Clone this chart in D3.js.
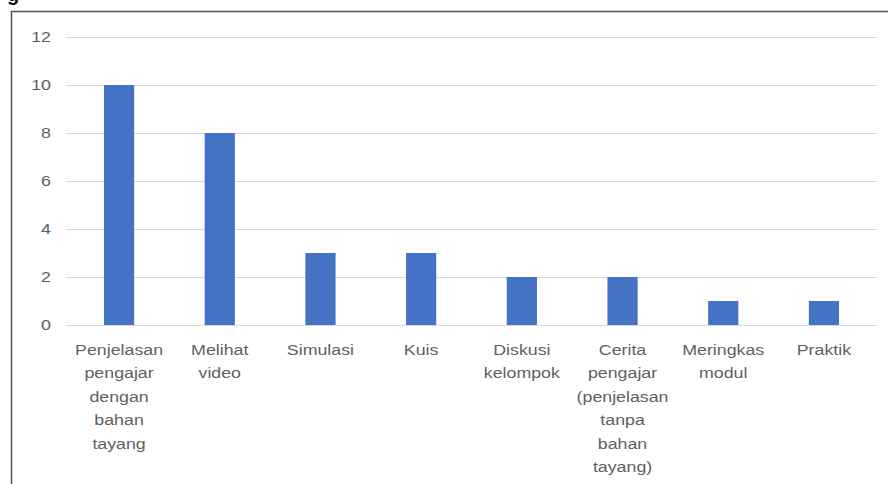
<!DOCTYPE html>
<html>
<head>
<meta charset="utf-8">
<script src="https://cdn.jsdelivr.net/npm/d3@7"></script>
<style>
  body { margin: 0; background: #fff; }
  svg { display: block; }
  text { font-family: "Liberation Sans", Arial, sans-serif; }
</style>
</head>
<body>
<script>
// data
var categories = [
  ["Penjelasan", "pengajar", "dengan", "bahan", "tayang"],
  ["Melihat", "video"],
  ["Simulasi"],
  ["Kuis"],
  ["Diskusi", "kelompok"],
  ["Cerita", "pengajar", "(penjelasan", "tanpa", "bahan", "tayang)"],
  ["Meringkas", "modul"],
  ["Praktik"]
];
var values = [10, 8, 3, 3, 2, 2, 1, 1];
var yTicks = [0, 2, 4, 6, 8, 10, 12];

var W = 888, H = 484;
var margin = {top: 37, right: 11, bottom: 159, left: 66},
    width = W - margin.left - margin.right,
    height = H - margin.top - margin.bottom;
var stretch = 1.27; // text in the picture is widened

var svg = d3.select("body").append("svg")
    .attr("width", W)
    .attr("height", H);

// frame (only left and top visible)
svg.append("path")
    .attr("d", "M11.5," + H + "V11.5H" + W)
    .attr("fill", "none")
    .attr("stroke", "#555")
    .attr("stroke-width", 1.5);

// cut-off caption glyph at top-left
svg.append("text")
    .attr("x", 7)
    .attr("y", 1)
    .attr("font-size", 20)
    .attr("font-weight", "bold")
    .attr("fill", "#111")
    .text("g");

var g = svg.append("g")
    .attr("transform", "translate(" + margin.left + "," + margin.top + ")");

var x = d3.scaleBand()
    .domain(d3.range(categories.length))
    .range([0, width])
    .paddingInner(0.7)
    .paddingOuter(0.377);

var y = d3.scaleLinear()
    .domain([0, 12])
    .range([height, 0]);

// gridlines
g.selectAll(".grid")
    .data(yTicks)
    .enter().append("line")
    .attr("class", "grid")
    .attr("x1", 0)
    .attr("x2", width)
    .attr("y1", function(d) { return Math.round(y(d)) + 0.5; })
    .attr("y2", function(d) { return Math.round(y(d)) + 0.5; })
    .attr("stroke", "#d9d9d9")
    .attr("stroke-width", 1.2);

// y tick labels
g.selectAll(".ylab")
    .data(yTicks)
    .enter().append("text")
    .attr("class", "ylab")
    .attr("transform", function(d) {
        return "translate(-15," + (y(d) + 5) + ") scale(" + stretch + ",1)";
    })
    .attr("text-anchor", "end")
    .attr("font-size", 14)
    .attr("fill", "#5f5f5f")
    .text(function(d) { return d; });

// bars
g.selectAll(".bar")
    .data(values)
    .enter().append("rect")
    .attr("class", "bar")
    .attr("x", function(d, i) { return x(i); })
    .attr("width", x.bandwidth())
    .attr("y", function(d) { return y(d); })
    .attr("height", function(d) { return height - y(d); })
    .attr("fill", "#4472c4");

// category labels, one line per tspan
var labels = g.selectAll(".xlab")
    .data(categories)
    .enter().append("text")
    .attr("class", "xlab")
    .attr("transform", function(d, i) {
        return "translate(" + (x(i) + x.bandwidth() / 2) + "," + (height + 30) + ") scale(" + stretch + ",1)";
    })
    .attr("text-anchor", "middle")
    .attr("font-size", 14)
    .attr("fill", "#5f5f5f");

labels.selectAll("tspan")
    .data(function(d) { return d; })
    .enter().append("tspan")
    .attr("x", 0)
    .attr("y", function(d, i) { return i * 23.5; })
    .text(function(d) { return d; });
</script>
</body>
</html>
